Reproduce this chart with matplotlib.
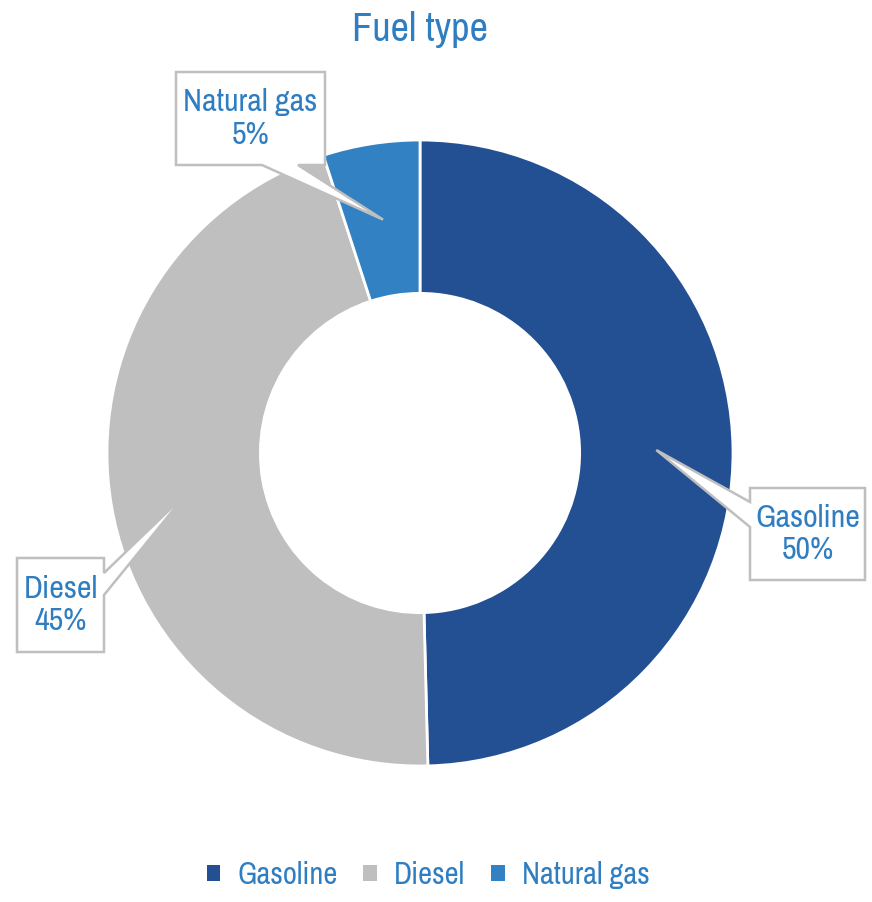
import matplotlib
matplotlib.use('Agg')
import matplotlib.pyplot as plt
from matplotlib import font_manager
from matplotlib.patches import Polygon
import numpy as np

# data
fuels = ['Gasoline', 'Diesel', 'Natural gas']
shares = [49.6, 45.4, 5.0]
share_labels = ['50%', '45%', '5%']
colors = ['#234F93', '#BFBFBF', '#3282C3']
txt_color = '#2F7EC1'

# look for a narrow face, otherwise fall back on DejaVu at a smaller size
narrow = sorted({f.name for f in font_manager.fontManager.ttflist
                 if 'Narrow' in f.name or 'Condensed' in f.name})
if narrow:
    plt.rcParams['font.family'] = [narrow[0], 'DejaVu Sans']
    scale = 1.0
else:
    plt.rcParams['font.family'] = ['DejaVu Sans']
    scale = 0.78

W, H = 872, 902
fig = plt.figure(figsize=(W / 100, H / 100), dpi=100)
ax = fig.add_axes([0, 0, 1, 1])

cx, cy, R = 420, H - 453, 313
ring = 0.49
wedges, _ = ax.pie(shares, colors=colors, startangle=90, counterclock=False,
                   radius=R, center=(cx, cy), frame=True,
                   wedgeprops=dict(width=R * ring, edgecolor='white', linewidth=2))
ax.set_xlim(0, W)
ax.set_ylim(0, H)
ax.axis('off')

fig.text(420 / W, 1 - 30 / H, 'Fuel type', ha='center', va='center',
         color=txt_color, fontsize=29 * scale)

# callout boxes (pixel layout, y measured from top)
boxes = {
    'Natural gas': ((176, 72, 325, 165), 'bottom', (262, 298)),
    'Gasoline': ((750, 488, 865, 580), 'left', (502, 527)),
    'Diesel': ((17, 558, 104, 652), 'right', (573, 595)),
}

def callout(x0, y0, x1, y1, side, b, tip):
    pts = [(x0, y0), (x1, y0)]
    if side == 'right':
        pts += [(x1, b[0]), tip, (x1, b[1])]
    pts.append((x1, y1))
    if side == 'bottom':
        pts += [(b[1], y1), tip, (b[0], y1)]
    pts.append((x0, y1))
    if side == 'left':
        pts += [(x0, b[1]), tip, (x0, b[0])]
    return [(x, H - y) for x, y in pts]

r_mid = R * (1 - ring / 2)
for w, name, lab in zip(wedges, fuels, share_labels):
    ang = np.deg2rad((w.theta1 + w.theta2) / 2)
    tip = (cx + r_mid * np.cos(ang), H - (cy + r_mid * np.sin(ang)))
    (x0, y0, x1, y1), side, b = boxes[name]
    poly = Polygon(callout(x0, y0, x1, y1, side, b, tip), closed=True,
                   facecolor='white', edgecolor='#BFBFBF', linewidth=1.8, zorder=5)
    ax.add_patch(poly)
    ax.text((x0 + x1) / 2, H - (y0 + y1) / 2, name + '\n' + lab, ha='center',
            va='center', color=txt_color, fontsize=23 * scale,
            linespacing=1.2, zorder=6)

leg = fig.legend(wedges, fuels, loc='center', bbox_to_anchor=(428 / W, 1 - 875 / H),
                 ncol=3, frameon=False, fontsize=22 * scale, handlelength=0.45,
                 handleheight=0.45, handletextpad=0.55, columnspacing=0.85)
for t in leg.get_texts():
    t.set_color(txt_color)
for h in leg.legend_handles:
    h.set_linewidth(0)

fig.savefig('out.png', dpi=100, facecolor='white')
